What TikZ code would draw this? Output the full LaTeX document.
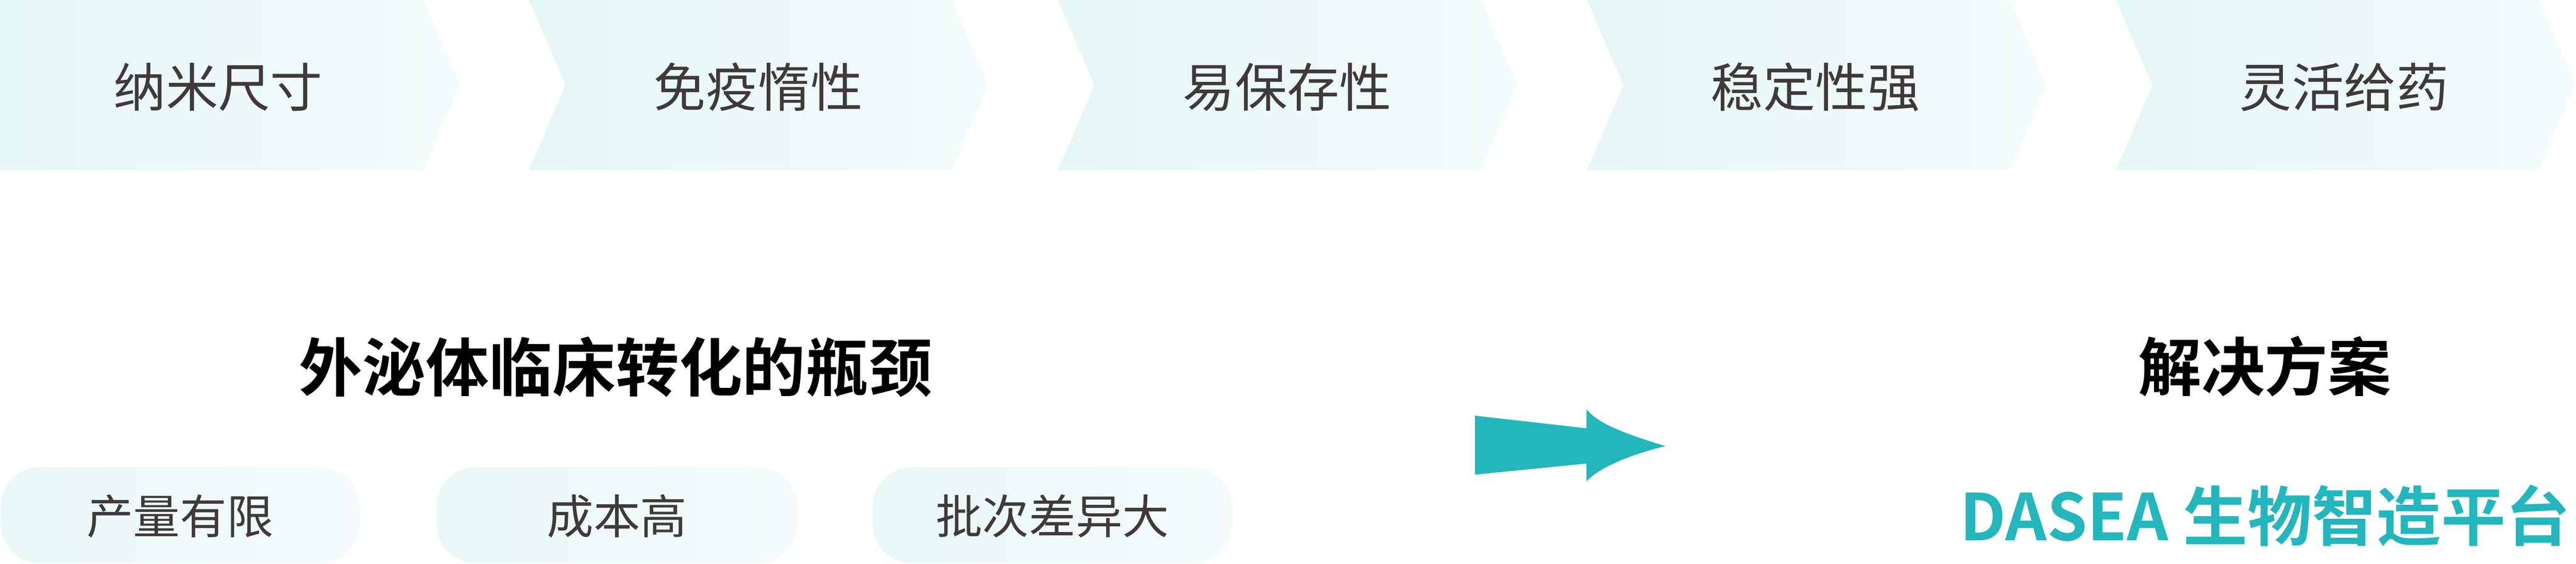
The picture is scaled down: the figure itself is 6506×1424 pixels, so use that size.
\documentclass[tikz,border=0pt]{standalone}
\usepackage{fontspec}
\setmainfont{Noto Sans CJK SC}
\newfontfamily\cjkbold{Noto Sans CJK SC Bold}
\definecolor{chevL}{HTML}{E5F6F6}
\definecolor{chevR}{HTML}{F4FBFC}
\definecolor{pillL}{HTML}{E9F7F7}
\definecolor{pillR}{HTML}{F5FBFC}
\definecolor{txtgray}{HTML}{3E3A39}
\definecolor{teal}{HTML}{24B6BD}
\tikzset{
  chevshade/.style={left color=chevL, right color=chevR, draw=none},
  pillshade/.style={left color=pillL, right color=pillR, draw=none, rounded corners=10pt},
  chevtext/.style={inner sep=0pt, text=txtgray, font=\fontsize{13.2pt}{14pt}\selectfont},
  pilltext/.style={inner sep=0pt, text=txtgray, font=\fontsize{11.8pt}{13pt}\selectfont},
  headtext/.style={inner sep=0pt, text=black, font=\cjkbold\fontsize{16pt}{18pt}\selectfont},
  brandtext/.style={inner sep=0pt, text=teal, font=\cjkbold\fontsize{16.3pt}{18pt}\selectfont},
}
\begin{document}
\begin{tikzpicture}[x=0.1pt,y=-0.1pt]
\useasboundingbox (0,0) rectangle (6506,1424);
% chevrons
\shade[chevshade] (0,0) -- (1070,0) -- (1162,215) -- (1070,430) -- (0,430) -- cycle;
\foreach \o in {1336,2672,4008,5344}{
  \shade[chevshade] (\o,0) -- (\o+1068,0) -- (\o+1160,215) -- (\o+1068,430) -- (\o,430) -- (\o+92,215) -- cycle;
}
\node[chevtext] (c1) at (551,220) {纳米尺寸};
\node[chevtext] (c2) at (1915,220) {免疫惰性};
\node[chevtext] (c3) at (3251,220) {易保存性};
\node[chevtext] (c4) at (4585,220) {稳定性强};
\node[chevtext] (c5) at (5920,220) {灵活给药};
% headings
\node[headtext] (bottleneck) at (1555,927) {外泌体临床转化的瓶颈};
\node[headtext] (solution) at (5720,926) {解决方案};
\node[brandtext] (brand) at (5721,1302) {DASEA 生物智造平台};
% pills
\shade[pillshade] (2,1180) rectangle (908,1423);
\shade[pillshade] (1102,1180) rectangle (2014,1423);
\shade[pillshade] (2204,1180) rectangle (3113,1423);
\node[pilltext] (p1) at (455,1304) {产量有限};
\node[pilltext] (p2) at (1558,1304) {成本高};
\node[pilltext] (p3) at (2658,1304) {批次差异大};
% arrow
\fill[teal] (3725,1050) -- (4007,1082) -- (4007,1034)
  .. controls (4040,1075) and (4120,1100) .. (4206,1127)
  .. controls (4120,1148) and (4040,1180) .. (4007,1216)
  -- (4007,1171) -- (3725,1199) -- cycle;
\end{tikzpicture}
\end{document}
